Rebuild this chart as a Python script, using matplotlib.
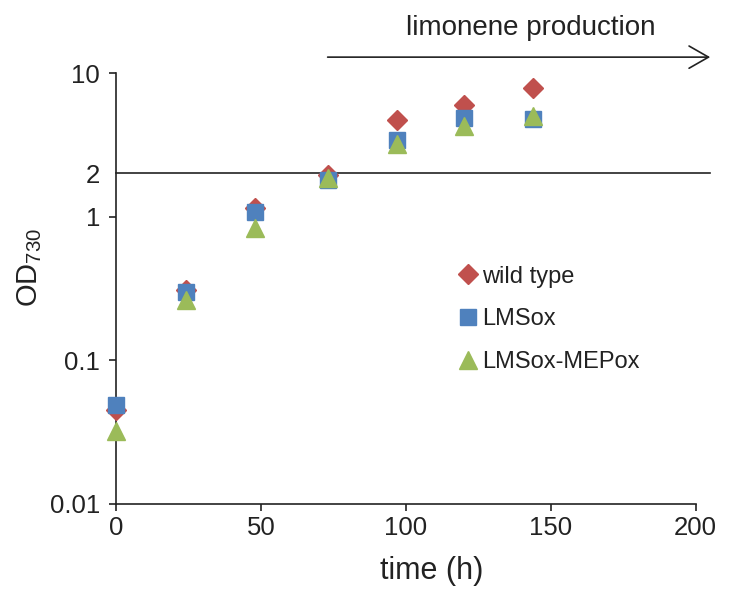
import matplotlib
matplotlib.use("Agg")
import matplotlib.pyplot as plt

plt.rcParams['font.family'] = ['Liberation Sans', 'DejaVu Sans']
plt.rcParams['mathtext.fontset'] = 'custom'
plt.rcParams['mathtext.rm'] = 'Liberation Sans'
plt.rcParams['mathtext.it'] = 'Liberation Sans'

# data
time_h = [0, 24, 48, 73, 97, 120, 144]
wild_type = [0.045, 0.31, 1.15, 1.95, 4.7, 6.0, 7.9]
lmsox = [0.049, 0.30, 1.07, 1.80, 3.4, 4.9, 4.8]
lmsox_mepox = [0.032, 0.265, 0.84, 1.85, 3.2, 4.3, 5.05]

yticks = [0.01, 0.1, 1, 2, 10]
yticklabels = ['0.01', '0.1', '1', '2', '10']
xticks = [0, 50, 100, 150, 200]

red = '#C0504D'
blue = '#4F81BD'
green = '#9BBB59'
ink = '#222222'

fig = plt.figure(figsize=(7.3, 5.99), dpi=100)
ax = fig.add_axes([0.159, 0.1586, 0.794, 0.7195])

ax.plot(time_h, wild_type, 'D', color=red, ms=10, label='wild type', clip_on=False, zorder=3)
ax.plot(time_h, lmsox, 's', color=blue, ms=12, label='LMSox', clip_on=False, zorder=4)
ax.plot(time_h, lmsox_mepox, '^', color=green, ms=13, label='LMSox-MEPox', clip_on=False, zorder=5)

ax.set_yscale('log')
ax.set_ylim(0.01, 10)
ax.set_xlim(0, 200)
ax.set_xticks(xticks)
ax.set_xticklabels([str(v) for v in xticks])
ax.set_yticks(yticks)
ax.set_yticklabels(yticklabels)
ax.yaxis.set_minor_locator(matplotlib.ticker.NullLocator())
ax.yaxis.get_major_ticks()[3].tick1line.set_visible(False)

for s in ['top', 'right']:
    ax.spines[s].set_visible(False)
for s in ['left', 'bottom']:
    ax.spines[s].set_color(ink)
    ax.spines[s].set_linewidth(1.2)
ax.tick_params(direction='out', length=5, width=1.2, color=ink,
               labelsize=18.5, labelcolor=ink, pad=4)
ax.tick_params(axis='y', pad=6.5)

# threshold line at OD 2
ax.plot([0, 205], [2, 2], color=ink, lw=1.2, clip_on=False, zorder=2)

# limonene production arrow
ax.annotate('', xy=(205, 12.9), xytext=(73, 12.9), annotation_clip=False,
            arrowprops=dict(arrowstyle='->, head_length=0.7, head_width=0.4',
                            color=ink, lw=1.2, mutation_scale=20,
                            shrinkA=0, shrinkB=0))
ax.text(143, 20.5, 'limonene production', ha='center', va='center',
        fontsize=20, color=ink, clip_on=False)

ax.set_xlabel('time (h)', fontsize=22, color=ink)
ax.xaxis.set_label_coords(0.545, -0.12)
ax.set_ylabel('OD$_{730}$', fontsize=21, color=ink)
ax.yaxis.set_label_coords(-0.125, 0.55)

ax.legend(loc='upper left', bbox_to_anchor=(0.567, 0.575), frameon=False,
          fontsize=17, handletextpad=0.0, labelspacing=0.88,
          handlelength=1.2, borderaxespad=0, labelcolor=ink)

fig.savefig('out.png', dpi=100)
